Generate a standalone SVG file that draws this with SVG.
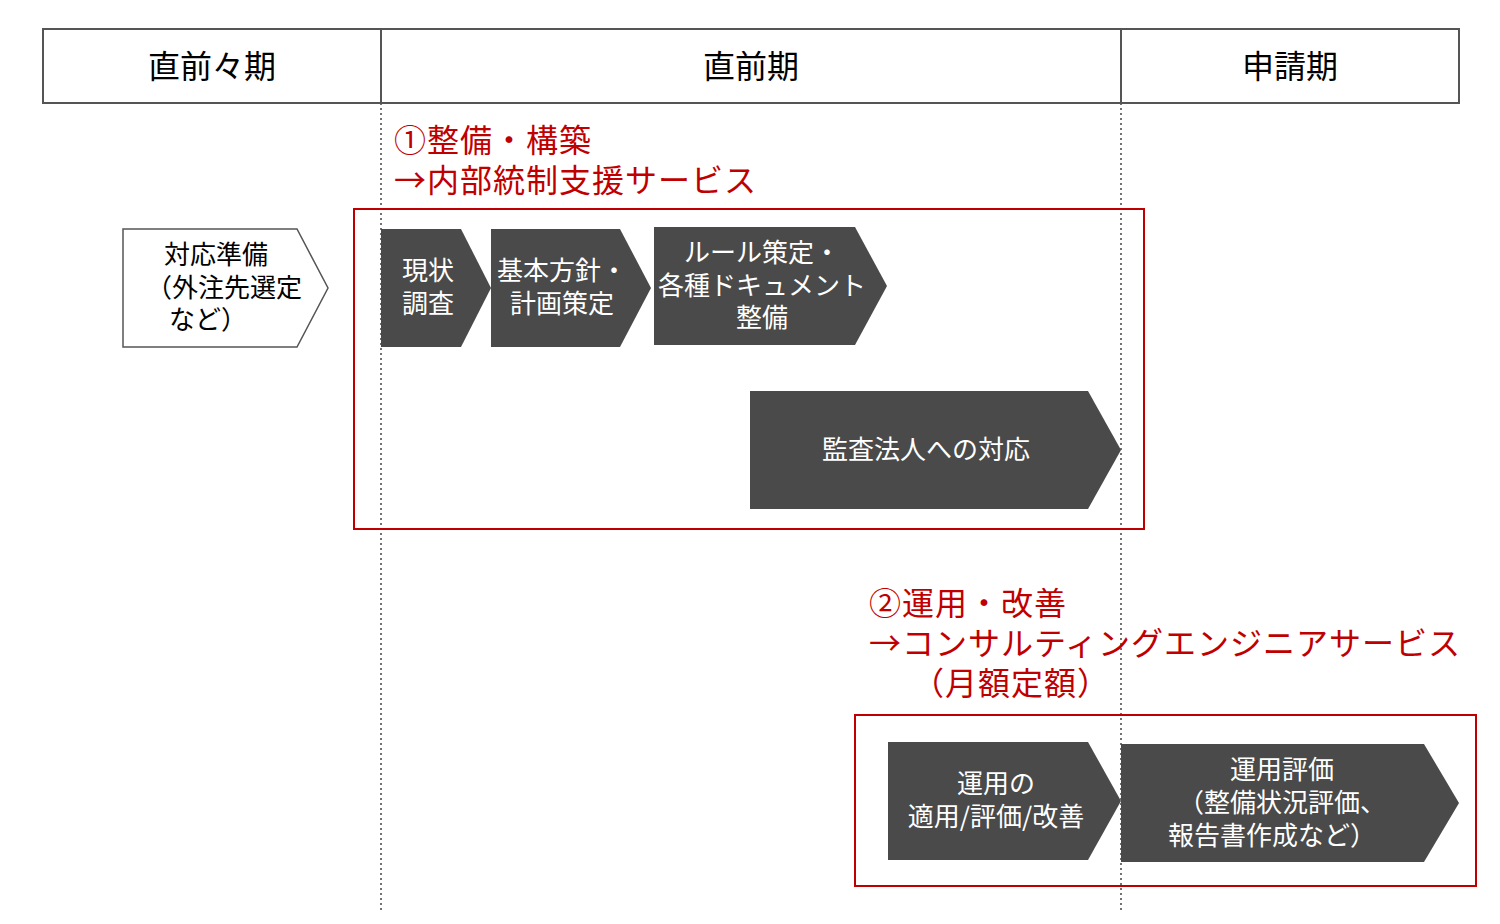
<svg xmlns="http://www.w3.org/2000/svg" width="1500" height="924" viewBox="0 0 1500 924">
<style>
text{font-family:"Noto Sans CJK JP","Noto Sans",sans-serif;}
.hdr{font-size:32px;fill:#000;text-anchor:middle;}
.wt{font-size:26px;fill:#fff;text-anchor:middle;}
.bt{font-size:26px;fill:#000;text-anchor:middle;}
.red{font-size:32px;fill:#c00000;letter-spacing:1px;}
.dark{fill:#4a4a4a;}
.frame{fill:none;stroke:#c00000;stroke-width:2;}
.dot{stroke:#444;stroke-width:1.5;stroke-dasharray:2 3;fill:none;}
</style>
<rect width="1500" height="924" fill="#fff"/>
<g id="connectors">
<line class="dot" x1="381" y1="103" x2="381" y2="910"/>
<line class="dot" x1="1121" y1="103" x2="1121" y2="910"/>
</g>
<g id="header">
<rect x="43" y="29" width="1416" height="74" fill="none" stroke="#555" stroke-width="2"/>
<line x1="381" y1="29" x2="381" y2="103" stroke="#555" stroke-width="2"/>
<line x1="1121" y1="29" x2="1121" y2="103" stroke="#555" stroke-width="2"/>
<text class="hdr" x="212" y="78">直前々期</text>
<text class="hdr" x="751" y="78">直前期</text>
<text class="hdr" x="1290" y="78">申請期</text>
</g>
<g id="label1">
<text class="red" x="394" y="152">①整備・構築</text>
<text class="red" x="394" y="192">→内部統制支援サービス</text>
</g>
<g id="frame1"><rect class="frame" x="354" y="209" width="790" height="320"/></g>
<g id="prep">
<polygon points="123,229 297,229 328,288 297,347 123,347" fill="#fff" stroke="#555" stroke-width="1.5"/>
<text class="bt" x="216" y="264">対応準備</text>
<text class="bt" x="224" y="297">（外注先選定</text>
<text class="bt" x="208" y="329">など）</text>
</g>
<g id="survey">
<polygon class="dark" points="381,229 461,229 491,288 461,347 381,347"/>
<text class="wt" x="428" y="280">現状</text>
<text class="wt" x="428" y="313">調査</text>
</g>
<g id="policy">
<polygon class="dark" points="491,229 620,229 651,288 620,347 491,347"/>
<text class="wt" x="562" y="280">基本方針・</text>
<text class="wt" x="562" y="313">計画策定</text>
</g>
<g id="rules">
<polygon class="dark" points="654,227 855,227 887,286 855,345 654,345"/>
<text class="wt" x="762" y="262">ルール策定・</text>
<text class="wt" x="762" y="295">各種ドキュメント</text>
<text class="wt" x="762" y="327">整備</text>
</g>
<g id="audit">
<polygon class="dark" points="750,391 1088,391 1121,450 1088,509 750,509"/>
<text class="wt" x="926" y="459">監査法人への対応</text>
</g>
<g id="label2">
<text class="red" x="869" y="615">②運用・改善</text>
<text class="red" x="869" y="655">→コンサルティングエンジニアサービス</text>
<text class="red" x="912" y="695">（月額定額）</text>
</g>
<g id="frame2"><rect class="frame" x="855" y="715" width="621" height="171"/></g>
<g id="operate">
<polygon class="dark" points="888,742 1088,742 1121,801 1088,860 888,860"/>
<text class="wt" x="996" y="793">運用の</text>
<text class="wt" x="996" y="826">適用/評価/改善</text>
</g>
<g id="evaluate">
<polygon class="dark" points="1121,744 1424,744 1459,803 1424,862 1121,862"/>
<text class="wt" x="1282" y="779">運用評価</text>
<text class="wt" x="1282" y="812">（整備状況評価、</text>
<text class="wt" x="1272" y="845">報告書作成など）</text>
</g>
</svg>
